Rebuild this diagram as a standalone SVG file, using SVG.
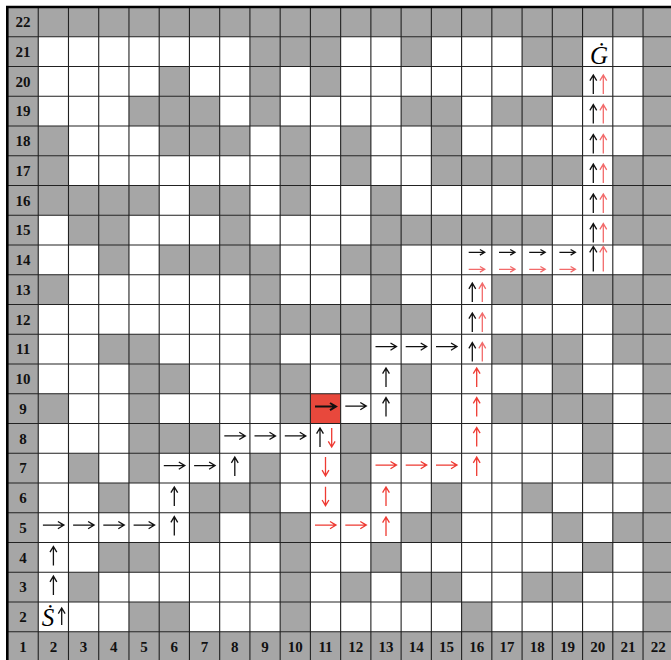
<svg xmlns="http://www.w3.org/2000/svg" xmlns:xlink="http://www.w3.org/1999/xlink" width="671" height="660" viewBox="0 0 671 660">
<style>
.lbl{font-family:"Liberation Serif","Times New Roman",serif;font-weight:bold;font-size:15px;text-anchor:middle;fill:#111}
.sym{font-family:"Liberation Serif","DejaVu Serif",serif;font-style:italic;font-size:25px;text-anchor:middle;fill:#000}
.k{fill:none;stroke:#111;stroke-width:1.3}
.r{fill:none;stroke:#ee3a32;stroke-width:1.3}
.p{fill:none;stroke:#f26a6a;stroke-width:1.3}
.kb{fill:none;stroke:#111;stroke-width:2}
</style>
<defs>
<path id="R" d="M-10.5,0H10.5M4.5,-3.6L10.5,0L4.5,3.6"/>
<path id="Rs" d="M-8,0H8M3.2,-2.8L8,0L3.2,2.8"/>
<path id="U" d="M0,9.5V-9.5M-3.4,-3.8L0,-9.5L3.4,-3.8"/>
<path id="Ut" d="M0,12.5V-12.5M-3.6,-6.6L0,-12.5L3.6,-6.6"/>
<path id="Us" d="M0,8.5V-8.5M-3.4,-2.8L0,-8.5L3.4,-2.8"/>
<path id="D" d="M0,-9.5V9.5M-3.4,3.8L0,9.5L3.4,3.8"/>
</defs>
<rect width="671" height="660" fill="#fff"/>
<g id="cells" transform="translate(8 7) scale(30.24 29.75)" fill="#a6a6a6">
<rect x="0" y="0" width="22" height="1"/>
<rect x="0" y="21" width="22" height="1"/>
<rect x="0" y="0" width="1" height="22"/>
<rect x="21" y="0" width="1" height="22"/>
<rect x="8" y="1" width="3" height="1"/><rect x="13" y="1" width="1" height="1"/><rect x="17" y="1" width="2" height="1"/>
<rect x="5" y="2" width="1" height="1"/><rect x="8" y="2" width="1" height="1"/><rect x="10" y="2" width="1" height="1"/><rect x="18" y="2" width="1" height="1"/>
<rect x="4" y="3" width="3" height="1"/><rect x="8" y="3" width="1" height="1"/><rect x="13" y="3" width="2" height="1"/><rect x="16" y="3" width="2" height="1"/>
<rect x="1" y="4" width="1" height="1"/><rect x="5" y="4" width="3" height="1"/><rect x="9" y="4" width="1" height="1"/><rect x="11" y="4" width="1" height="1"/><rect x="14" y="4" width="1" height="1"/>
<rect x="1" y="5" width="1" height="1"/><rect x="9" y="5" width="1" height="1"/><rect x="11" y="5" width="1" height="1"/><rect x="14" y="5" width="5" height="1"/><rect x="20" y="5" width="1" height="1"/>
<rect x="1" y="6" width="4" height="1"/><rect x="6" y="6" width="2" height="1"/><rect x="9" y="6" width="1" height="1"/><rect x="12" y="6" width="1" height="1"/><rect x="20" y="6" width="1" height="1"/>
<rect x="2" y="7" width="2" height="1"/><rect x="7" y="7" width="1" height="1"/><rect x="12" y="7" width="6" height="1"/><rect x="20" y="7" width="1" height="1"/>
<rect x="3" y="8" width="1" height="1"/><rect x="5" y="8" width="4" height="1"/><rect x="11" y="8" width="2" height="1"/>
<rect x="1" y="9" width="1" height="1"/><rect x="8" y="9" width="1" height="1"/><rect x="12" y="9" width="1" height="1"/><rect x="16" y="9" width="2" height="1"/><rect x="19" y="9" width="2" height="1"/>
<rect x="8" y="10" width="6" height="1"/><rect x="20" y="10" width="1" height="1"/>
<rect x="3" y="11" width="2" height="1"/><rect x="8" y="11" width="1" height="1"/><rect x="11" y="11" width="1" height="1"/><rect x="16" y="11" width="3" height="1"/><rect x="20" y="11" width="1" height="1"/>
<rect x="4" y="12" width="2" height="1"/><rect x="8" y="12" width="2" height="1"/><rect x="11" y="12" width="1" height="1"/><rect x="13" y="12" width="1" height="1"/><rect x="18" y="12" width="1" height="1"/>
<rect x="1" y="13" width="1" height="1"/><rect x="4" y="13" width="1" height="1"/><rect x="9" y="13" width="1" height="1"/><rect x="13" y="13" width="1" height="1"/><rect x="16" y="13" width="4" height="1"/>
<rect x="4" y="14" width="3" height="1"/><rect x="11" y="14" width="3" height="1"/><rect x="19" y="14" width="1" height="1"/>
<rect x="2" y="15" width="1" height="1"/><rect x="4" y="15" width="1" height="1"/><rect x="8" y="15" width="1" height="1"/><rect x="11" y="15" width="1" height="1"/><rect x="19" y="15" width="1" height="1"/>
<rect x="3" y="16" width="1" height="1"/><rect x="6" y="16" width="3" height="1"/><rect x="11" y="16" width="1" height="1"/><rect x="14" y="16" width="1" height="1"/><rect x="17" y="16" width="1" height="1"/>
<rect x="6" y="17" width="1" height="1"/><rect x="8" y="17" width="2" height="1"/><rect x="13" y="17" width="2" height="1"/><rect x="18" y="17" width="1" height="1"/><rect x="20" y="17" width="1" height="1"/>
<rect x="3" y="18" width="2" height="1"/><rect x="9" y="18" width="1" height="1"/><rect x="12" y="18" width="1" height="1"/><rect x="19" y="18" width="1" height="1"/>
<rect x="2" y="19" width="1" height="1"/><rect x="9" y="19" width="1" height="1"/><rect x="11" y="19" width="1" height="1"/><rect x="13" y="19" width="2" height="1"/><rect x="17" y="19" width="2" height="1"/>
<rect x="4" y="20" width="2" height="1"/><rect x="9" y="20" width="1" height="1"/><rect x="15" y="20" width="1" height="1"/>
<rect id="red-cell" x="10" y="13" width="1" height="1" fill="#e8483c"/>
</g>
<g id="grid" fill="none" stroke="#222" stroke-width="1.1">
<path d="M38.24,7V662M68.48,7V662M98.72,7V662M128.96,7V662M159.2,7V662M189.44,7V662M219.68,7V662M249.92,7V662M280.16,7V662M310.4,7V662M340.64,7V662M370.88,7V662M401.12,7V662M431.36,7V662M461.6,7V662M491.84,7V662M522.08,7V662M552.32,7V662M582.56,7V662M612.8,7V662M643.04,7V662"/>
<path d="M8,36.75H671M8,66.5H671M8,96.25H671M8,126H671M8,155.75H671M8,185.5H671M8,215.25H671M8,245H671M8,274.75H671M8,304.5H671M8,334.25H671M8,364H671M8,393.75H671M8,423.5H671M8,453.25H671M8,483H671M8,512.75H671M8,542.5H671M8,572.25H671M8,602H671M8,631.75H671"/>
<path d="M7.3,6V662M6,7H671" stroke="#000" stroke-width="2.6"/>
</g>
<g id="row-labels">
<text class="lbl" x="23.1" y="27.2">22</text>
<text class="lbl" x="23.1" y="56.9">21</text>
<text class="lbl" x="23.1" y="86.7">20</text>
<text class="lbl" x="23.1" y="116.4">19</text>
<text class="lbl" x="23.1" y="146.2">18</text>
<text class="lbl" x="23.1" y="175.9">17</text>
<text class="lbl" x="23.1" y="205.7">16</text>
<text class="lbl" x="23.1" y="235.4">15</text>
<text class="lbl" x="23.1" y="265.2">14</text>
<text class="lbl" x="23.1" y="294.9">13</text>
<text class="lbl" x="23.1" y="324.7">12</text>
<text class="lbl" x="23.1" y="354.4">11</text>
<text class="lbl" x="23.1" y="384.2">10</text>
<text class="lbl" x="23.1" y="413.9">9</text>
<text class="lbl" x="23.1" y="443.7">8</text>
<text class="lbl" x="23.1" y="473.4">7</text>
<text class="lbl" x="23.1" y="503.2">6</text>
<text class="lbl" x="23.1" y="532.9">5</text>
<text class="lbl" x="23.1" y="562.7">4</text>
<text class="lbl" x="23.1" y="592.4">3</text>
<text class="lbl" x="23.1" y="622.2">2</text>
</g>
<g id="col-labels">
<text class="lbl" x="23.1" y="651.9">1</text>
<text class="lbl" x="53.4" y="651.9">2</text>
<text class="lbl" x="83.6" y="651.9">3</text>
<text class="lbl" x="113.8" y="651.9">4</text>
<text class="lbl" x="144.1" y="651.9">5</text>
<text class="lbl" x="174.3" y="651.9">6</text>
<text class="lbl" x="204.6" y="651.9">7</text>
<text class="lbl" x="234.8" y="651.9">8</text>
<text class="lbl" x="265.0" y="651.9">9</text>
<text class="lbl" x="295.3" y="651.9">10</text>
<text class="lbl" x="325.5" y="651.9">11</text>
<text class="lbl" x="355.8" y="651.9">12</text>
<text class="lbl" x="386.0" y="651.9">13</text>
<text class="lbl" x="416.2" y="651.9">14</text>
<text class="lbl" x="446.5" y="651.9">15</text>
<text class="lbl" x="476.7" y="651.9">16</text>
<text class="lbl" x="507.0" y="651.9">17</text>
<text class="lbl" x="537.2" y="651.9">18</text>
<text class="lbl" x="567.4" y="651.9">19</text>
<text class="lbl" x="597.7" y="651.9">20</text>
<text class="lbl" x="627.9" y="651.9">21</text>
<text class="lbl" x="658.2" y="651.9">22</text>
</g>
<g id="start"><text class="sym" x="48" y="625.5">Ṡ</text></g>
<g id="goal"><text class="sym" x="599" y="63.5">Ġ</text></g>
<g id="connectors">
<g id="black-path" class="k">
<use xlink:href="#Us" x="61.7" y="616.5"/>
<use xlink:href="#U" x="53.4" y="585.6"/>
<use xlink:href="#U" x="53.4" y="555.9"/>
<use xlink:href="#R" x="53.4" y="525.1"/>
<use xlink:href="#R" x="83.6" y="525.1"/>
<use xlink:href="#R" x="113.8" y="525.1"/>
<use xlink:href="#R" x="144.1" y="525.1"/>
<use xlink:href="#U" x="174.3" y="526.1"/>
<use xlink:href="#U" x="174.3" y="496.4"/>
<use xlink:href="#R" x="174.3" y="465.6"/>
<use xlink:href="#R" x="204.6" y="465.6"/>
<use xlink:href="#U" x="234.8" y="466.6"/>
<use xlink:href="#R" x="234.8" y="435.9"/>
<use xlink:href="#R" x="265.0" y="435.9"/>
<use xlink:href="#R" x="295.3" y="435.9"/>
<use xlink:href="#U" x="320" y="437.5"/>
<use xlink:href="#R" x="355.8" y="406.1"/>
<use xlink:href="#U" x="386.0" y="407.1"/>
<use xlink:href="#U" x="386.0" y="377.4"/>
<use xlink:href="#R" x="386.0" y="346.6"/>
<use xlink:href="#R" x="416.2" y="346.6"/>
<use xlink:href="#R" x="446.5" y="346.6"/>
<use xlink:href="#U" x="472.3" y="352.1"/>
<use xlink:href="#U" x="472.3" y="322.4"/>
<use xlink:href="#U" x="472.3" y="292.6"/>
<use xlink:href="#Rs" x="476.7" y="252.3"/>
<use xlink:href="#Rs" x="507.0" y="252.3"/>
<use xlink:href="#Rs" x="537.2" y="252.3"/>
<use xlink:href="#Rs" x="567.4" y="252.3"/>
<use xlink:href="#Ut" x="593.3" y="259"/>
<use xlink:href="#U" x="593.3" y="233.1"/>
<use xlink:href="#U" x="593.3" y="203.4"/>
<use xlink:href="#U" x="593.3" y="173.6"/>
<use xlink:href="#U" x="593.3" y="143.9"/>
<use xlink:href="#U" x="593.3" y="114.1"/>
<use xlink:href="#U" x="593.3" y="84.4"/>
</g>
<use xlink:href="#R" class="kb" x="325.5" y="406.6"/>
<g id="red-path" class="r">
<use xlink:href="#D" x="331.7" y="437.5"/>
<use xlink:href="#D" x="325.5" y="466.4"/>
<use xlink:href="#D" x="325.5" y="496.2"/>
<use xlink:href="#R" x="325.5" y="525.1"/>
<use xlink:href="#R" x="355.8" y="525.1"/>
<use xlink:href="#U" x="386.0" y="526.4"/>
<use xlink:href="#U" x="386.0" y="496.4"/>
<use xlink:href="#R" x="386.0" y="465.1"/>
<use xlink:href="#R" x="416.2" y="465.1"/>
<use xlink:href="#R" x="446.5" y="465.1"/>
<use xlink:href="#U" x="476.7" y="466.6"/>
<use xlink:href="#U" x="476.7" y="437"/>
<use xlink:href="#U" x="476.7" y="407.1"/>
<use xlink:href="#U" x="476.7" y="377.4"/>
</g>
<g id="red-shared" class="p">
<use xlink:href="#U" x="482.3" y="352.1"/>
<use xlink:href="#U" x="482.3" y="322.4"/>
<use xlink:href="#U" x="482.3" y="292.6"/>
<use xlink:href="#Rs" x="476.7" y="269.3"/>
<use xlink:href="#Rs" x="507.0" y="269.3"/>
<use xlink:href="#Rs" x="537.2" y="269.3"/>
<use xlink:href="#Rs" x="567.4" y="269.3"/>
<use xlink:href="#Ut" x="603.3" y="259"/>
<use xlink:href="#U" x="603.3" y="233.1"/>
<use xlink:href="#U" x="603.3" y="203.4"/>
<use xlink:href="#U" x="603.3" y="173.6"/>
<use xlink:href="#U" x="603.3" y="143.9"/>
<use xlink:href="#U" x="603.3" y="114.1"/>
<use xlink:href="#U" x="603.3" y="84.4"/>
</g>
</g>
</svg>
